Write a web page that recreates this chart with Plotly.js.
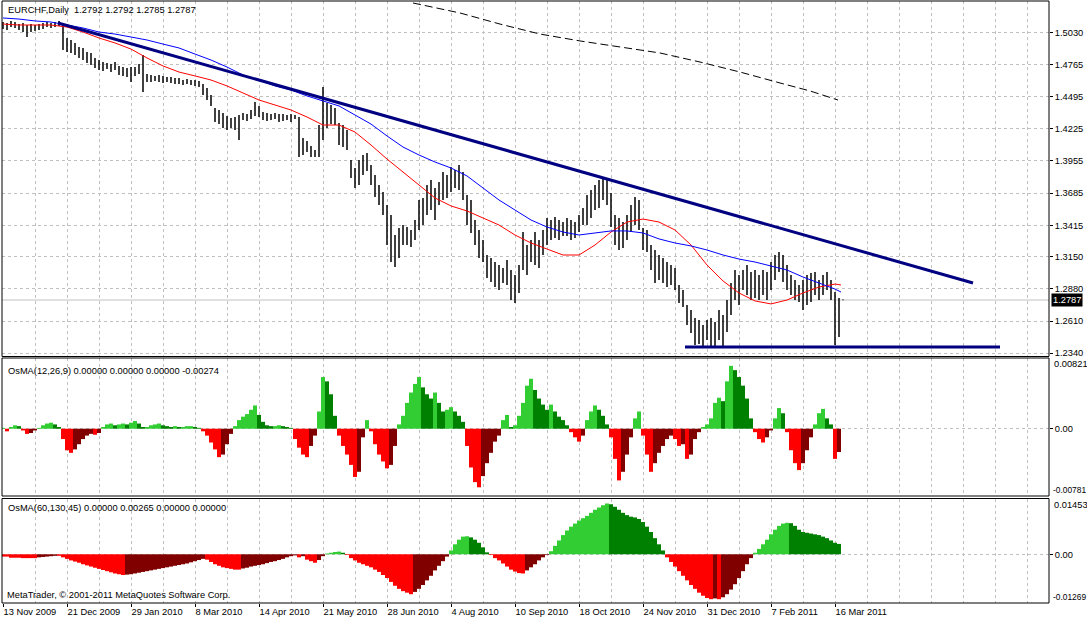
<!DOCTYPE html>
<html>
<head>
<meta charset="utf-8">
<script src="https://cdn.plot.ly/plotly-3.0.1.min.js"></script>
<style>html,body{margin:0;padding:0;background:#fff;}#chart{width:1087px;height:620px;}</style>
</head>
<body>
<div id="chart"></div>
<script>
// ---------- DATA ----------
const xTickLabels = ['13 Nov 2009','21 Dec 2009','29 Jan 2010','8 Mar 2010','14 Apr 2010','21 May 2010','28 Jun 2010','4 Aug 2010','10 Sep 2010','18 Oct 2010','24 Nov 2010','31 Dec 2010','7 Feb 2011','16 Mar 2011'];
const priceTicks = [1.5030,1.4765,1.4495,1.4225,1.3955,1.3685,1.3415,1.3150,1.2880,1.2610,1.2340];

// price bars sampled every second bar (high / low)
const barHigh = [
1.5122,1.5114,1.5131,1.5122,1.5105,1.5114,1.5097,1.5105,1.5097,1.5105,
1.5114,1.5122,1.5114,1.5122,1.5131,1.5105,1.4988,1.4971,1.4946,1.4912,
1.4904,1.4870,1.4862,1.4820,1.4803,1.4786,1.4778,1.4769,1.4786,1.4753,
1.4744,1.4736,1.4744,1.4744,1.4769,1.4845,1.4685,1.4677,1.4669,1.4677,
1.4669,1.4660,1.4660,1.4652,1.4652,1.4635,1.4643,1.4635,1.4635,1.4627,
1.4601,1.4568,1.4509,1.4400,1.4383,1.4358,1.4333,1.4316,1.4324,1.4341,
1.4358,1.4349,1.4383,1.4450,1.4417,1.4366,1.4358,1.4349,1.4358,1.4349,
1.4349,1.4341,1.4349,1.4341,1.4324,1.4148,1.4123,1.4081,1.4047,1.4257,
1.4576,1.4442,1.4425,1.4400,1.4274,1.4257,1.4215,1.3963,1.3896,1.3963,
1.4005,1.4022,1.3921,1.3837,1.3753,1.3694,1.3585,1.3501,1.3333,1.3392,
1.3417,1.3400,1.3375,1.3459,1.3627,1.3644,1.3753,1.3795,1.3728,1.3778,
1.3862,1.3837,1.3904,1.3879,1.3921,1.3862,1.3669,1.3627,1.3459,1.3375,
1.3291,1.3165,1.3140,1.3106,1.3081,1.3056,1.3123,1.3039,1.2997,1.3081,
1.3358,1.3249,1.3291,1.3358,1.3291,1.3375,1.3476,1.3459,1.3484,1.3459,
1.3442,1.3476,1.3459,1.3442,1.3501,1.3560,1.3669,1.3711,1.3753,1.3795,
1.3820,1.3795,1.3686,1.3501,1.3476,1.3442,1.3501,1.3585,1.3652,1.3627,
1.3392,1.3375,1.3249,1.3207,1.3165,1.3140,1.3106,1.3081,1.3056,1.2913,
1.2871,1.2745,1.2703,1.2636,1.2619,1.2577,1.2619,1.2636,1.2602,1.2703,
1.2661,1.2787,1.2930,1.3039,1.2997,1.3039,1.3081,1.3022,1.3039,1.2997,
1.3039,1.3022,1.3106,1.3165,1.3190,1.3165,1.3081,1.2997,1.2955,1.2913,
1.2955,1.2997,1.3014,1.3022,1.2955,1.2997,1.3022,1.2955,1.2854,1.2804,
1.2792];
const barLow = [
1.5063,1.5055,1.5080,1.5072,1.5055,1.5038,1.4996,1.5038,1.5047,1.5055,
1.5063,1.5080,1.5072,1.5080,1.5089,1.4887,1.4870,1.4862,1.4845,1.4820,
1.4803,1.4778,1.4761,1.4736,1.4719,1.4711,1.4727,1.4702,1.4719,1.4677,
1.4669,1.4660,1.4618,1.4669,1.4685,1.4534,1.4618,1.4618,1.4627,1.4618,
1.4610,1.4618,1.4610,1.4601,1.4601,1.4593,1.4601,1.4593,1.4585,1.4576,
1.4509,1.4467,1.4417,1.4282,1.4265,1.4232,1.4215,1.4232,1.4215,1.4131,
1.4299,1.4291,1.4307,1.4333,1.4324,1.4299,1.4291,1.4299,1.4307,1.4282,
1.4291,1.4299,1.4282,1.4307,1.3988,1.4005,1.4030,1.3988,1.3988,1.3988,
1.4131,1.4232,1.4265,1.4257,1.4089,1.4072,1.4047,1.3812,1.3728,1.3753,
1.3837,1.3871,1.3753,1.3652,1.3585,1.3501,1.3249,1.3106,1.3064,1.3140,
1.3249,1.3249,1.3232,1.3291,1.3375,1.3417,1.3501,1.3543,1.3459,1.3585,
1.3627,1.3644,1.3694,1.3728,1.3711,1.3627,1.3417,1.3350,1.3249,1.3140,
1.3106,1.2972,1.2938,1.2896,1.2871,1.2930,1.2913,1.2787,1.2762,1.2846,
1.3039,1.2997,1.3106,1.3081,1.3056,1.3165,1.3249,1.3291,1.3308,1.3291,
1.3325,1.3325,1.3291,1.3308,1.3358,1.3417,1.3417,1.3476,1.3543,1.3560,
1.3627,1.3585,1.3400,1.3249,1.3207,1.3224,1.3291,1.3358,1.3417,1.3375,
1.3207,1.3190,1.3039,1.2930,1.2955,1.2930,1.2896,1.2913,1.2871,1.2762,
1.2728,1.2577,1.2510,1.2409,1.2417,1.2392,1.2451,1.2392,1.2401,1.2451,
1.2392,1.2518,1.2661,1.2787,1.2745,1.2871,1.2829,1.2787,1.2804,1.2787,
1.2829,1.2787,1.2871,1.2955,1.3022,1.2938,1.2871,1.2829,1.2787,1.2770,
1.2703,1.2745,1.2770,1.2829,1.2787,1.2829,1.2871,1.2787,1.2409,1.2476,
1.2785];

// moving averages sampled every 8 bars (+ last bar)
const maBars = [0,8,16,24,32,40,48,56,64,72,80,88,96,104,112,120,128,136,144,152,160,168,176,184,192,200,208,216,224,232,240,248,256,264,272,280,288,296,304,312,320,328,336,344,352,360,368,376,384,392,400,408,416,419];
const redMA = [
1.5105,1.5097,1.5097,1.5097,1.5080,1.5038,1.4988,1.4946,1.4895,1.4820,
1.4753,1.4702,1.4669,1.4635,1.4585,1.4526,1.4467,1.4425,1.4383,1.4324,
1.4257,1.4257,1.4198,1.4089,1.3971,1.3862,1.3753,1.3644,1.3577,1.3535,
1.3476,1.3417,1.3333,1.3266,1.3215,1.3165,1.3165,1.3249,1.3358,1.3442,
1.3467,1.3442,1.3375,1.3249,1.3081,1.2947,1.2846,1.2779,1.2754,1.2787,
1.2846,1.2896,1.2921,1.2913];
const blueMA = [
1.5156,1.5147,1.5131,1.5122,1.5097,1.5072,1.5038,1.5021,1.4996,1.4971,
1.4937,1.4904,1.4853,1.4803,1.4744,1.4677,1.4635,1.4585,1.4551,1.4501,
1.4459,1.4417,1.4341,1.4265,1.4165,1.4072,1.4005,1.3946,1.3896,1.3829,
1.3728,1.3627,1.3543,1.3459,1.3400,1.3358,1.3333,1.3350,1.3367,1.3367,
1.3350,1.3300,1.3266,1.3241,1.3207,1.3165,1.3131,1.3106,1.3073,1.3039,
1.2980,1.2930,1.2879,1.2854];
const dashBars = [205,228.5,248.5,268.5,288.5,308.5,328.5,348.5,368.5,388.5,403.5,417.5];
const dashVals = [1.5282,1.5198,1.5105,1.5021,1.4963,1.4912,1.4862,1.4786,1.4702,1.4610,1.4543,1.4467];
const trendBars = [27.5,485];
const trendVals = [1.5114,1.2930];
const supportBars = [341,498.5];
const supportVals = [1.2392,1.2392];
const lastPrice = 1.2787;

// OsMA(12,26,9) sampled every second bar
const osma1 = [
0.0001,-0.0003,0.0002,0.0004,0.0003,-0.0002,-0.0006,-0.0005,-0.0002,0.0001,
0.0004,0.0006,0.0007,0.0005,0.0002,-0.0012,-0.0025,-0.0028,-0.0024,-0.0018,
-0.0012,-0.0008,-0.0006,-0.0007,-0.0005,0.0002,0.0005,0.0006,0.0004,0.0005,
0.0006,0.0005,0.0007,0.0009,0.0006,0.0002,0.0002,0.0004,0.0005,0.0006,
0.0004,0.0003,0.0002,0.0003,0.0002,0.0002,0.0003,0.0003,0.0002,0.0001,
-0.0003,-0.0008,-0.0016,-0.0024,-0.0033,-0.0030,-0.0018,-0.0006,0.0003,0.0010,
0.0014,0.0017,0.0022,0.0027,0.0016,0.0008,0.0004,0.0003,0.0003,0.0004,
0.0003,0.0002,0.0001,-0.0012,-0.0022,-0.0030,-0.0033,-0.0020,-0.0008,0.0020,
0.0060,0.0055,0.0040,0.0015,-0.0008,-0.0020,-0.0030,-0.0042,-0.0056,-0.0050,
-0.0010,0.0010,-0.0003,-0.0018,-0.0030,-0.0038,-0.0046,-0.0042,-0.0020,0.0005,
0.0015,0.0030,0.0042,0.0052,0.0060,0.0048,0.0040,0.0035,0.0042,0.0030,
0.0020,0.0022,0.0025,0.0020,0.0015,0.0008,-0.0020,-0.0045,-0.0062,-0.0068,
-0.0055,-0.0040,-0.0028,-0.0015,-0.0008,0.0010,0.0016,0.0002,0.0004,0.0015,
0.0030,0.0050,0.0058,0.0045,0.0035,0.0028,0.0022,0.0028,0.0020,0.0014,
0.0010,0.0004,-0.0004,-0.0010,-0.0015,-0.0008,0.0010,0.0020,0.0027,0.0022,
0.0015,0.0005,-0.0010,-0.0035,-0.0060,-0.0050,-0.0030,-0.0010,0.0012,0.0020,
-0.0008,-0.0030,-0.0050,-0.0040,-0.0028,-0.0020,-0.0012,-0.0008,-0.0012,-0.0020,
-0.0018,-0.0035,-0.0030,-0.0012,-0.0004,0.0002,0.0005,0.0012,0.0030,0.0036,
0.0032,0.0055,0.0073,0.0068,0.0060,0.0050,0.0035,0.0012,-0.0004,-0.0012,
-0.0016,-0.0010,-0.0002,0.0012,0.0024,0.0018,-0.0004,-0.0025,-0.0040,-0.0048,
-0.0040,-0.0025,-0.0010,0.0005,0.0018,0.0023,0.0012,0.0005,-0.0035,-0.0027];

// OsMA(60,130,45) sampled every second bar
const osma2 = [
-0.0006,-0.0006,-0.0009,-0.0009,-0.0009,-0.0010,-0.0010,-0.0010,-0.0010,-0.0008,
-0.0007,-0.0006,-0.0005,-0.0004,-0.0004,-0.0008,-0.0012,-0.0016,-0.0019,-0.0022,
-0.0026,-0.0029,-0.0032,-0.0035,-0.0038,-0.0041,-0.0044,-0.0047,-0.0050,-0.0052,
-0.0054,-0.0053,-0.0052,-0.0050,-0.0048,-0.0046,-0.0044,-0.0042,-0.0040,-0.0038,
-0.0036,-0.0034,-0.0032,-0.0030,-0.0028,-0.0026,-0.0024,-0.0021,-0.0018,-0.0015,
-0.0012,-0.0014,-0.0020,-0.0026,-0.0030,-0.0034,-0.0036,-0.0038,-0.0040,-0.0040,
-0.0037,-0.0035,-0.0032,-0.0030,-0.0028,-0.0026,-0.0023,-0.0020,-0.0018,-0.0015,
-0.0012,-0.0008,-0.0005,-0.0003,-0.0008,-0.0005,-0.0014,-0.0018,-0.0022,-0.0015,
-0.0005,0.0002,0.0004,0.0006,0.0007,0.0004,-0.0002,-0.0010,-0.0016,-0.0022,
-0.0026,-0.0030,-0.0034,-0.0040,-0.0046,-0.0054,-0.0062,-0.0072,-0.0082,-0.0090,
-0.0096,-0.0100,-0.0104,-0.0098,-0.0090,-0.0080,-0.0068,-0.0056,-0.0042,-0.0030,
-0.0018,-0.0006,0.0010,0.0026,0.0038,0.0046,0.0047,0.0044,0.0038,0.0030,
0.0018,0.0005,-0.0002,-0.0010,-0.0016,-0.0024,-0.0032,-0.0040,-0.0045,-0.0049,
-0.0050,-0.0042,-0.0034,-0.0026,-0.0016,-0.0008,-0.0002,0.0008,0.0022,0.0036,
0.0050,0.0062,0.0072,0.0080,0.0088,0.0094,0.0100,0.0108,0.0116,0.0122,
0.0128,0.0132,0.0130,0.0124,0.0116,0.0108,0.0102,0.0098,0.0096,0.0092,
0.0084,0.0072,0.0058,0.0042,0.0026,0.0010,-0.0008,-0.0020,-0.0032,-0.0044,
-0.0056,-0.0068,-0.0080,-0.0090,-0.0100,-0.0108,-0.0114,-0.0117,-0.0115,-0.0117,
-0.0112,-0.0104,-0.0092,-0.0078,-0.0062,-0.0044,-0.0026,-0.0010,0.0004,0.0014,
0.0026,0.0038,0.0052,0.0064,0.0074,0.0080,0.0082,0.0081,0.0074,0.0064,
0.0058,0.0056,0.0054,0.0052,0.0050,0.0046,0.0042,0.0036,0.0030,0.0027];

// ---------- BUILD ----------
const FONT = 'Liberation Sans, Arial, sans-serif';
const FS = 9.3;
const barIdx = barHigh.map((_, i) => i * 2);
const oscIdx = osma1.map((_, i) => i * 2);
const barSpan = barHigh.map((h, i) => h - barLow[i]);

function osmaColors(vals) {
  return vals.map((v, i) => {
    const p = i === 0 ? 0 : vals[i - 1];
    if (v >= 0) return v >= p ? '#32CD32' : '#008000';
    return v <= p ? '#FF0000' : '#800000';
  });
}

// plot area: x px 2..1049, y px 1..603
const W = 1087, H = 620, ML = 2, MR = 38, MT = 1, MB = 17;
const PW = W - ML - MR, PH = H - MT - MB;
const py = p => (H - MB - p) / PH;   // pixel y -> paper y
const px = p => (p - ML) / PW;       // pixel x -> paper x
const dPrice = [py(356.5), 1];
const dOs1 = [py(496), py(358)];
const dOs2 = [0, py(498.5)];

const traces = [
  {type:'bar', x:barIdx, y:barSpan, base:barLow, width:0.75, marker:{color:'#000000', line:{width:0}}, xaxis:'x', yaxis:'y'},
  {type:'scatter', mode:'lines', x:maBars, y:redMA, line:{color:'#FF0000', width:1}, xaxis:'x', yaxis:'y'},
  {type:'scatter', mode:'lines', x:maBars, y:blueMA, line:{color:'#0000FF', width:1}, xaxis:'x', yaxis:'y'},
  {type:'scatter', mode:'lines', x:dashBars, y:dashVals, line:{color:'#000000', width:1, dash:'8px,4px'}, xaxis:'x', yaxis:'y'},
  {type:'scatter', mode:'lines', x:trendBars, y:trendVals, line:{color:'#000080', width:3}, xaxis:'x', yaxis:'y'},
  {type:'scatter', mode:'lines', x:supportBars, y:supportVals, line:{color:'#000080', width:3}, xaxis:'x', yaxis:'y'},
  {type:'bar', x:oscIdx, y:osma1, width:2, marker:{color:osmaColors(osma1), line:{width:0}}, xaxis:'x', yaxis:'y2'},
  {type:'bar', x:oscIdx, y:osma2, width:2, marker:{color:osmaColors(osma2), line:{width:0}}, xaxis:'x', yaxis:'y3'}
];

const majorTicks = xTickLabels.map((_, i) => i * 32);
const minorTicks = [];
for (let v = 16; v <= 523; v += 32) minorTicks.push(v);
for (let v = 448; v <= 523; v += 32) minorTicks.push(v);

const gridStyle = {showgrid:true, gridcolor:'#c0c0c0', gridwidth:1, griddash:'3px,3px'};
const yBase = Object.assign({side:'right', anchor:'x', zeroline:false, showline:false, ticks:'outside', ticklen:3, tickcolor:'#000', tickfont:{family:FONT, size:FS, color:'#000'}, fixedrange:true}, gridStyle);

const layout = {
  width:W, height:H, margin:{l:ML, r:MR, t:MT, b:MB, pad:0},
  paper_bgcolor:'#ffffff', plot_bgcolor:'#ffffff',
  showlegend:false, barmode:'overlay', hovermode:false,
  font:{family:FONT, size:FS, color:'#000'},
  xaxis: Object.assign({
    anchor:'y3', range:[-0.5, 523], zeroline:false, showline:false,
    tickmode:'array', tickvals:majorTicks, ticktext:xTickLabels,
    ticks:'outside', ticklen:3, tickcolor:'#000', ticklabelposition:'outside right',
    tickfont:{family:FONT, size:FS, color:'#000'}, fixedrange:true,
    minor:{tickvals:minorTicks, showgrid:true, gridcolor:'#c0c0c0', griddash:'3px,3px', ticks:''}
  }, gridStyle),
  yaxis: Object.assign({}, yBase, {domain:dPrice, range:[1.5307 - 0.00084*356.5, 1.5307 - 0.00084*1], tickmode:'array', tickvals:priceTicks, ticktext:priceTicks.map(v => v.toFixed(4))}),
  yaxis2: Object.assign({}, yBase, {domain:dOs1, range:[-0.00781, 0.00821], tickmode:'array', tickvals:[0], ticktext:['0.00']}),
  yaxis3: Object.assign({}, yBase, {domain:dOs2, range:[-0.01269, 0.01453], tickmode:'array', tickvals:[0], ticktext:['0.00']}),
  shapes: [
    {type:'line', xref:'paper', yref:'y', x0:0, x1:1, y0:lastPrice, y1:lastPrice, line:{color:'#c0c0c0', width:1}, layer:'below'},
    {type:'rect', xref:'paper', yref:'paper', x0:0, x1:1, y0:dPrice[0], y1:dPrice[1], line:{color:'#000', width:1}, layer:'above'},
    {type:'rect', xref:'paper', yref:'paper', x0:0, x1:1, y0:dOs1[0], y1:dOs1[1], line:{color:'#000', width:1}, layer:'above'},
    {type:'rect', xref:'paper', yref:'paper', x0:0, x1:1, y0:dOs2[0], y1:dOs2[1], line:{color:'#000', width:1}, layer:'above'}
  ],
  annotations: [
    {text:'EURCHF,Daily&nbsp;&nbsp;1.2792 1.2792 1.2785 1.2787', xref:'paper', yref:'paper', x:px(6), y:py(10.5), xanchor:'left', yanchor:'middle', showarrow:false},
    {text:'OsMA(12,26,9) 0.00000 0.00000 0.00000 -0.00274', xref:'paper', yref:'paper', x:px(6), y:py(371), xanchor:'left', yanchor:'middle', showarrow:false},
    {text:'OsMA(60,130,45) 0.00000 0.00265 0.00000 0.00000', xref:'paper', yref:'paper', x:px(6), y:py(508), xanchor:'left', yanchor:'middle', showarrow:false},
    {text:'MetaTrader, © 2001-2011 MetaQuotes Software Corp.', xref:'paper', yref:'paper', x:px(5), y:py(595), xanchor:'left', yanchor:'middle', showarrow:false},
    {text:lastPrice.toFixed(4), xref:'paper', yref:'y', x:px(1051), y:lastPrice, xanchor:'left', yanchor:'middle', showarrow:false, bgcolor:'#000000', font:{color:'#ffffff', family:FONT, size:FS}, borderpad:1},
    {text:'0.00821', xref:'paper', yref:'paper', x:px(1052), y:py(364), xanchor:'left', yanchor:'middle', showarrow:false},
    {text:'-0.00781', xref:'paper', yref:'paper', x:px(1051), y:py(490), xanchor:'left', yanchor:'middle', showarrow:false, font:{family:FONT, size:8.4, color:'#000'}},
    {text:'0.01453', xref:'paper', yref:'paper', x:px(1052), y:py(505), xanchor:'left', yanchor:'middle', showarrow:false},
    {text:'-0.01269', xref:'paper', yref:'paper', x:px(1051), y:py(597), xanchor:'left', yanchor:'middle', showarrow:false, font:{family:FONT, size:8.4, color:'#000'}}
  ]
};

Plotly.newPlot('chart', traces, layout, {staticPlot:true, displayModeBar:false});
</script>
</body>
</html>
